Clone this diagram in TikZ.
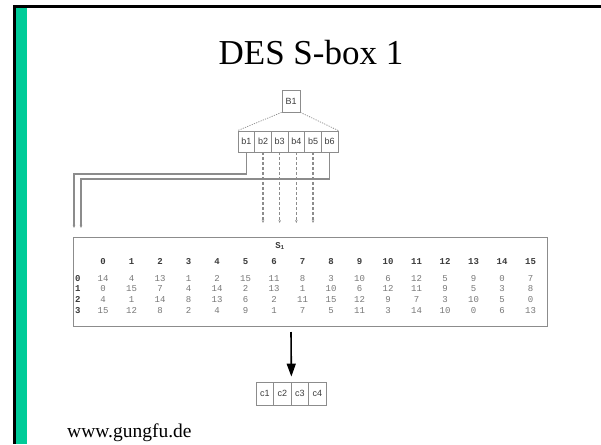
\documentclass[tikz,border=0pt]{standalone}
\usepackage{fontspec}
\setmainfont{Liberation Serif}
\newfontfamily\boxfont{Liberation Sans}
\newfontfamily\tabfont{Liberation Mono}
\usetikzlibrary{arrows.meta,calc}
\definecolor{slidegreen}{RGB}{0,204,153}
\definecolor{linegray}{RGB}{140,140,140}
\definecolor{labelgray}{RGB}{60,60,60}
\definecolor{numgray}{RGB}{120,120,120}
\tikzset{
  cell/.style={draw=linegray, line width=0.8pt, minimum height=21pt, inner sep=0pt,
    font=\boxfont\fontsize{9}{9}\selectfont, text=labelgray},
  conn/.style={draw=linegray, line width=1.1pt, -{Stealth[length=3pt,width=2.5pt]}},
  dconn/.style={conn, dash pattern=on 3pt off 2pt},
  fan/.style={draw=linegray, line width=0.7pt, dash pattern=on 1.2pt off 1.2pt},
  numtxt/.style={inner sep=0pt, text height=6pt, text depth=0pt,
    font=\tabfont\fontsize{9}{9}\selectfont, text=numgray},
  headtxt/.style={inner sep=0pt, text height=6pt, text depth=0pt,
    font=\tabfont\bfseries\fontsize{9}{9}\selectfont, text=labelgray},
  bigarrow/.style={draw=black, line width=1.6pt, -{Triangle[length=13pt,width=9pt]}}
}
\begin{document}
\begin{tikzpicture}[x=1pt,y=-1pt]
\useasboundingbox (0,0) rectangle (601,444);
\fill[white] (0,0) rectangle (601,444);
% slide frame: top rule, left rule and green band
\fill[black] (13,5) rectangle (601,8);
\fill[black] (13,5) rectangle (16,444);
\fill[slidegreen] (16,8) rectangle (27,444);

% title and footer
\node[anchor=base, inner sep=0pt, font=\fontsize{35}{35}\selectfont] (title) at (311,64) {DES S-box 1};
\node[anchor=base west, inner sep=0pt, font=\fontsize{19.5}{19.5}\selectfont] (footer) at (67,437) {www.gungfu.de};

% the 6-bit input block
\node[cell, minimum width=18pt, minimum height=22pt] (B1) at (291,101) {B1};
\foreach \i in {1,...,6} {
  \node[cell, minimum width=16.67pt] (b\i) at ({238+16.67*(\i-0.5)},141.5) {b\i};
}
\draw[fan] (B1.south west) -- (b1.north west);
\draw[fan] (B1.south east) -- (b6.north east);

% outer bits select the row
\coordinate (k1) at (74,174);
\coordinate (t1) at (74,228);
\coordinate (k6) at (81,179);
\coordinate (t6) at (81,228);
\draw[conn] (b1.south) |- (k1) -- (t1);
\draw[conn] (b6.south) |- (k6) -- (t6);

% inner bits select the column
\coordinate (dend) at (0,223);
\foreach \i in {2,...,5} {
  \draw[dconn] (b\i.south) -- (b\i.south |- dend);
}

% the S-box table
\node[draw=linegray, line width=0.8pt, minimum width=474pt, minimum height=89pt, inner sep=0pt] (tbl) at (310,281.5) {};
\node[headtxt] (s1) at (280,245) {S\textsubscript{1}};
\foreach \c in {0,...,15} {
  \node[headtxt] (h\c) at ({103+28.5*\c},261) {\c};
}
\foreach \r/\y in {0/278,1/288.7,2/299.3,3/310} {
  \node[headtxt, anchor=west] (r\r) at (75,\y) {\r};
}
\foreach \r/\y/\vals in {
  0/278/{14,4,13,1,2,15,11,8,3,10,6,12,5,9,0,7},
  1/288.7/{0,15,7,4,14,2,13,1,10,6,12,11,9,5,3,8},
  2/299.3/{4,1,14,8,13,6,2,11,15,12,9,7,3,10,5,0},
  3/310/{15,12,8,2,4,9,1,7,5,11,3,14,10,0,6,13}} {
  \foreach \v [count=\c from 0] in \vals {
    \node[numtxt] (v\r-\c) at ({103+28.5*\c},\y) {\v};
  }
}

% the 4-bit output block
\foreach \i in {1,...,4} {
  \node[cell, minimum width=17.5pt, minimum height=23pt] (c\i) at ({256+17.5*(\i-0.5)},393.5) {c\i};
}
\coordinate (astart) at (291,332);
\draw[bigarrow, shorten >=5pt] (astart) -- (c2.north east);
\end{tikzpicture}
\end{document}
